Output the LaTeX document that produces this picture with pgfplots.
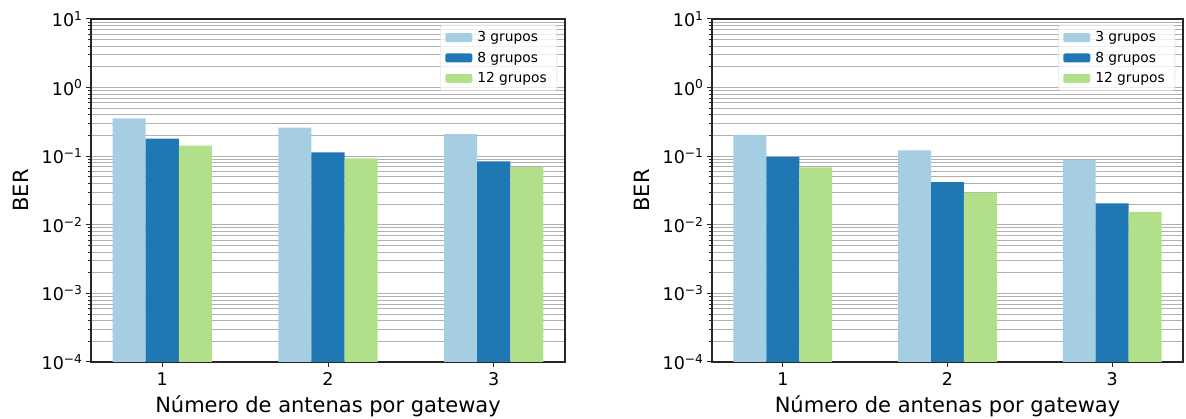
\documentclass[border=0pt]{standalone}
\usepackage{fontspec}
\setmainfont{DejaVu Sans}
\usepackage{pgfplots}
\pgfplotsset{compat=1.18}
\definecolor{cA}{HTML}{A6CEE3}
\definecolor{cB}{HTML}{1F78B4}
\definecolor{cC}{HTML}{B2DF8A}
\definecolor{gridc}{HTML}{B0B0B0}
\pgfplotsset{every axis/.append style={
    scale only axis, height=343pt,
    xmin=0.57, xmax=3.43,
    xtick={1,2,3}, xticklabels={1,2,3},
    ymajorgrids, yminorgrids,
    major grid style={gridc, line width=1pt},
    minor grid style={gridc, line width=1pt},
    axis line style={line width=1.1pt, black!85},
    tick style={black!85, line width=1pt},
    tick align=outside, tick pos=left,
    major tick length=5pt, minor tick length=3pt,
    ticklabel style={font=\fontsize{17.5}{20}\selectfont},
    xticklabel style={yshift=-2pt},
    label style={font=\fontsize{21}{24}\selectfont},
    xlabel style={yshift=-3pt},
    ylabel style={yshift=6pt},
    legend cell align=left,
  },
  every axis legend/.append style={at={(1,1)}, xshift=-8pt, yshift=-6pt, anchor=north east,
      font=\fontsize{13.8}{15}\selectfont, draw=black!18, fill=white, fill opacity=0.8, text opacity=1,
      rounded corners=2pt, row sep=4.6pt, inner xsep=5pt, inner ysep=4.5pt,
      nodes={inner xsep=5pt}},
}
\begin{document}
\begin{tikzpicture}
\useasboundingbox (0,0) rectangle (1186pt,419pt);
\begin{semilogyaxis}[width=474pt, at={(91pt,57pt)}, anchor=south west,
    ymin=1e-4, ymax=10, log origin y=infty,
    ytick={1e-4,1e-3,1e-2,1e-1,1,10},
    yticklabels={10\textsuperscript{−4},10\textsuperscript{−3},10\textsuperscript{−2},10\textsuperscript{−1},10\textsuperscript{0},10\textsuperscript{1}},
    xlabel={Número de antenas por gateway}, ylabel={BER},
    legend image code/.code={\fill[#1, draw=none, fill opacity=1] (0pt,-4.5pt) rectangle (27pt,4.5pt);}]
\addplot[ybar, bar width=0.2, bar shift=-0.2, fill=cA, draw=none] coordinates {(1,0.357) (2,0.26) (3,0.21)};
\addplot[ybar, bar width=0.2, bar shift=0, fill=cB, draw=none] coordinates {(1,0.18) (2,0.114) (3,0.084)};
\addplot[ybar, bar width=0.2, bar shift=0.2, fill=cC, draw=none] coordinates {(1,0.142) (2,0.093) (3,0.070)};
\legend{3 grupos, 8 grupos, 12 grupos}
\end{semilogyaxis}
\begin{semilogyaxis}[width=471pt, at={(712pt,57pt)}, anchor=south west,
    ymin=1e-4, ymax=10, log origin y=infty,
    ytick={1e-4,1e-3,1e-2,1e-1,1,10},
    yticklabels={10\textsuperscript{−4},10\textsuperscript{−3},10\textsuperscript{−2},10\textsuperscript{−1},10\textsuperscript{0},10\textsuperscript{1}},
    xlabel={Número de antenas por gateway}, ylabel={BER},
    legend image code/.code={\fill[#1, draw=none, fill opacity=1] (0pt,-4.5pt) rectangle (27pt,4.5pt);}]
\addplot[ybar, bar width=0.2, bar shift=-0.2, fill=cA, draw=none] coordinates {(1,0.204) (2,0.122) (3,0.088)};
\addplot[ybar, bar width=0.2, bar shift=0, fill=cB, draw=none] coordinates {(1,0.098) (2,0.042) (3,0.0206)};
\addplot[ybar, bar width=0.2, bar shift=0.2, fill=cC, draw=none] coordinates {(1,0.069) (2,0.0294) (3,0.0154)};
\legend{3 grupos, 8 grupos, 12 grupos}
\end{semilogyaxis}
\end{tikzpicture}
\end{document}
